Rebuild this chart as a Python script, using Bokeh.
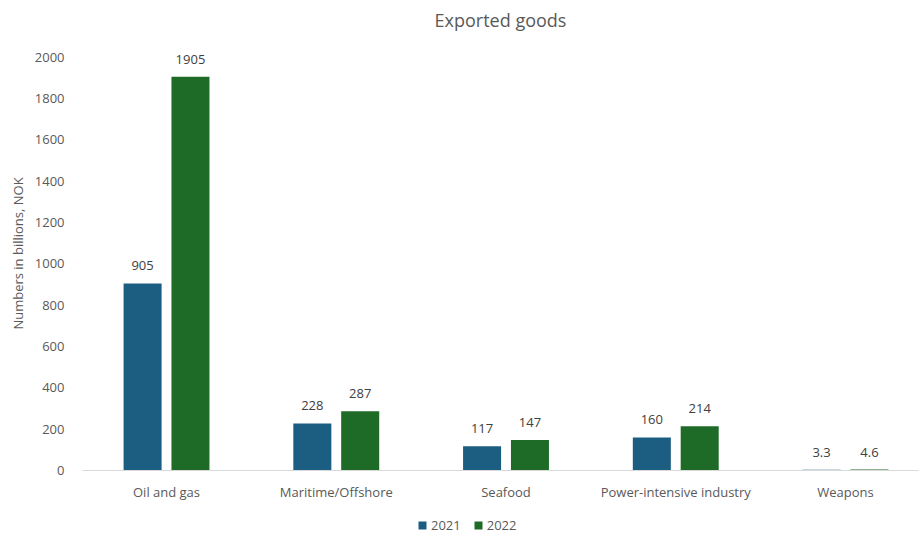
from bokeh.plotting import figure
from bokeh.layouts import column
from bokeh.models import ColumnDataSource, Range1d, FixedTicker, LabelSet, Legend, LegendItem
from bokeh.core.properties import value
from bokeh.transform import dodge
from bokeh.embed import file_html
from bokeh.resources import INLINE

categories = ["Oil and gas", "Maritime/Offshore", "Seafood", "Power-intensive industry", "Weapons"]
values_2021 = [905, 228, 117, 160, 3.3]
values_2022 = [1905, 287, 147, 214, 4.6]
labels_2021 = ["905", "228", "117", "160", "3.3"]
labels_2022 = ["1905", "287", "147", "214", "4.6"]
series_names = ["2021", "2022"]
y_ticks = [0, 200, 400, 600, 800, 1000, 1200, 1400, 1600, 1800, 2000]

FONT = "Open Sans"
C21 = "#1B5E82"
C22 = "#1E6B28"

src = ColumnDataSource(dict(
    x=list(range(len(categories))),
    v21=values_2021, v22=values_2022,
    l21=labels_2021, l22=labels_2022,
))

p = figure(width=922, height=510, output_backend="svg", toolbar_location=None,
           x_range=Range1d(-0.495, 4.43), y_range=Range1d(0, 2100),
           min_border_left=82, min_border_right=4, min_border_bottom=40, min_border_top=35,
           title="Exported goods")
p.outline_line_color = None
p.grid.visible = False
p.title.align = "center"
p.title.text_font = FONT
p.title.text_font_size = "18px"
p.title.text_font_style = "normal"
p.title.text_color = "#595959"
p.title.standoff = 10

p.vbar(x=dodge("x", -0.141, range=p.x_range), top="v21", width=0.224, source=src,
       fill_color=C21, line_color=None)
p.vbar(x=dodge("x", 0.141, range=p.x_range), top="v22", width=0.224, source=src,
       fill_color=C22, line_color=None)

for col, off in (("21", -0.141), ("22", 0.141)):
    lab = LabelSet(x=dodge("x", off, range=p.x_range), y="v" + col, text="l" + col, source=src,
                   text_align="center", text_baseline="bottom", y_offset=13,
                   text_font=value(FONT), text_font_size="13px", text_color="#404040")
    p.add_layout(lab)

p.xaxis.ticker = FixedTicker(ticks=list(range(len(categories))))
p.xaxis.major_label_overrides = {i: c for i, c in enumerate(categories)}
p.xaxis.axis_line_color = "#D9D9D9"
p.xaxis.major_tick_line_color = None
p.xaxis.minor_tick_line_color = None
p.xaxis.major_label_text_font = FONT
p.xaxis.major_label_text_font_size = "13px"
p.xaxis.major_label_text_color = "#595959"
p.xaxis.major_label_standoff = 6

p.yaxis.ticker = FixedTicker(ticks=y_ticks)
p.yaxis.axis_line_color = None
p.yaxis.major_tick_line_color = None
p.yaxis.minor_tick_line_color = None
p.yaxis.major_label_text_font = FONT
p.yaxis.major_label_text_font_size = "13px"
p.yaxis.major_label_text_color = "#595959"
p.yaxis.major_label_standoff = 12
p.yaxis.axis_label = "Numbers in billions, NOK"
p.yaxis.axis_label_text_font = FONT
p.yaxis.axis_label_text_font_size = "13px"
p.yaxis.axis_label_text_font_style = "normal"
p.yaxis.axis_label_text_color = "#595959"

# legend strip below the chart (its frame is aligned with the chart frame)
lf = figure(width=922, height=25, output_backend="svg", toolbar_location=None,
            x_range=Range1d(0, 1), y_range=Range1d(0, 1), min_border=0,
            x_axis_location=None, y_axis_location=None)
lf.outline_line_color = None
lf.grid.visible = False
proxy = ColumnDataSource(dict(x=[0.5], top=[0]))
lr21 = lf.vbar(x="x", top="top", width=0.0, source=proxy, fill_color=C21, line_color=None)
lr22 = lf.vbar(x="x", top="top", width=0.0, source=proxy, fill_color=C22, line_color=None)
legend = Legend(items=[LegendItem(label=series_names[0], renderers=[lr21]),
                       LegendItem(label=series_names[1], renderers=[lr22])],
                orientation="horizontal", location=(335, 1),
                border_line_color=None, background_fill_alpha=0,
                label_text_font=FONT, label_text_font_size="13px", label_text_color="#595959",
                glyph_width=10, glyph_height=10, spacing=12, label_standoff=4,
                margin=0, padding=2, label_height=14)
lf.add_layout(legend)

open("out.html", "w").write(file_html(column(p, lf, spacing=0), INLINE))
